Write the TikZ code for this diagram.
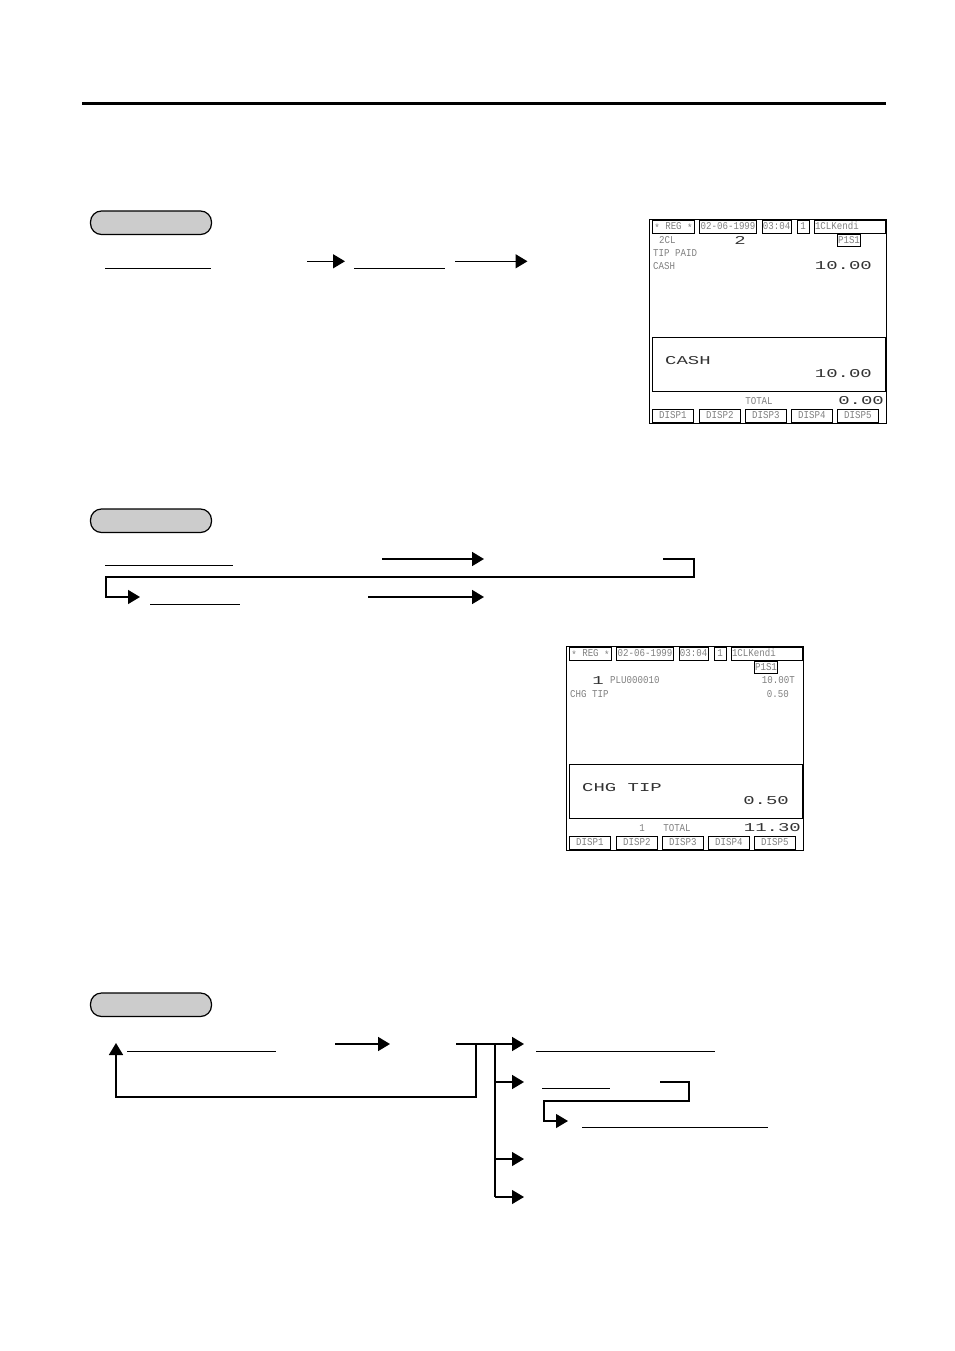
\documentclass[tikz,border=0pt]{standalone}
\usepackage{fontspec}
\newfontfamily\regfont[FakeStretch=0.87]{Liberation Mono}
\newfontfamily\regwide{Liberation Mono}
\usetikzlibrary{arrows.meta}
\definecolor{pillgray}{gray}{0.8}
\definecolor{regtext}{gray}{0.5}

\tikzset{
  pill/.style={draw, line width=1.2pt, fill=pillgray, rounded corners=11pt, inner sep=0pt, outer sep=0pt, anchor=north west, minimum width=121pt, minimum height=23.5pt},
  regbox/.style={draw, line width=0.9pt, inner sep=0pt, outer sep=0pt, anchor=north west, minimum height=13pt, text height=6.5pt, text depth=0pt, text=regtext, font=\regfont\fontsize{10.5}{11}\selectfont},
  regtxt/.style={inner sep=0pt, text=regtext, font=\regfont\fontsize{10.5}{11}\selectfont},
  regbig/.style={inner sep=0pt, yshift=-1pt, text=black!80, font=\regwide\fontsize{12}{12}\selectfont},
  uline/.style={line width=1pt},
  flow/.style={line width=1.2pt, -{Triangle[length=12pt,width=14pt]}},
  flowthick/.style={line width=1.7pt, -{Triangle[length=12pt,width=14pt]}}
}

% wide display digits of the register
\newcommand{\regw}[1]{\scalebox{1.58}[1]{#1}}
% star of the mode box, sits low
\newcommand{\regstar}{\raisebox{-1.6pt}{*}}

% frame of the register screen, #1 = prefix of the names
\newcommand{\regframe}[1]{
  \node[regbox, minimum width=237pt, minimum height=204pt] (#1outer) at (649.5,219) {};
  \node[regbox, minimum width=42pt] (#1mode) at (652.5,220) {\regstar{} REG \regstar};
  \node[regbox, minimum width=57.5pt] (#1date) at (699.3,220) {02-06-1999};
  \node[regbox, minimum width=28.7pt] (#1time) at (762.3,220) {03:04};
  \node[regbox, minimum width=11.7pt] (#1cons) at (797.3,220) {1};
  \node[regbox, minimum width=71pt, text width=69pt, align=left] (#1clerk) at (814,220) {1CLKendi};
  \node[regbox, minimum width=23.4pt, minimum height=12pt] (#1shift) at (837.3,234) {P1S1};
  \node[regbox, minimum width=232.5pt, minimum height=54.4pt] (#1main) at (652.5,337.3) {};
  \foreach \n/\xpos in {1/652.3, 2/699.3, 3/745.3, 4/791.3, 5/837.3}
    \node[regbox, minimum width=41pt, minimum height=12.7pt] (#1disp\n) at (\xpos,409.3) {DISP\n};
}

\begin{document}
\begin{tikzpicture}[x=1pt, y=-1pt]
  \useasboundingbox (0,0) rectangle (954,1351);

  \coordinate (ruleL) at (82,103.5);
  \coordinate (ruleR) at (886,103.5);
  \draw[line width=3pt] (ruleL) -- (ruleR);

  %Pills
  \node[pill] (pillA) at (90.5,211) {};
  \node[pill] (pillB) at (90.5,509) {};
  \node[pill] (pillC) at (90.5,993) {};

  %First flow
  \path
   (105,268.3) coordinate(a1) (211,268.3) coordinate(a2)
   (354,268.3) coordinate(a3) (445,268.3) coordinate(a4)
   (307,261.3) coordinate(a5) (345,261.3) coordinate(a6)
   (455,261.3) coordinate(a7) (527.5,261.3) coordinate(a8);
  \draw[uline] (a1) -- (a2);
  \draw[uline] (a3) -- (a4);
  \draw[flow] (a5) -- (a6);
  \draw[flow] (a7) -- (a8);

  %Second flow
  \path
   (105,565.5) coordinate(b1) (233,565.5) coordinate(b2)
   (150,604) coordinate(b3) (240,604) coordinate(b4)
   (382,559) coordinate(b5) (484,559) coordinate(b6)
   (368,597) coordinate(b7) (484,597) coordinate(b8)
   (663,559) coordinate(b9) (694,559) coordinate(b10)
   (694,577) coordinate(b11) (106,577) coordinate(b12)
   (106,597) coordinate(b13) (140,597) coordinate(b14);
  \draw[uline] (b1) -- (b2);
  \draw[uline] (b3) -- (b4);
  \draw[flowthick] (b5) -- (b6);
  \draw[flowthick] (b7) -- (b8);
  \draw[flow, line width=1.3pt] (b9) -- (b10) -- (b11) -- (b12) -- (b13) -- (b14);

  %Third flow
  \path
   (127,1051) coordinate(c1) (276,1051) coordinate(c2)
   (536,1051) coordinate(c3) (715,1051) coordinate(c4)
   (542,1088) coordinate(c5) (610,1088) coordinate(c6)
   (582,1127) coordinate(c7) (768,1127) coordinate(c8)
   (335,1044) coordinate(c9) (390,1044) coordinate(c10)
   (456,1044) coordinate(c11) (524,1044) coordinate(c12)
   (476,1044) coordinate(c13) (476,1097) coordinate(c14)
   (116,1097) coordinate(c15) (116,1043) coordinate(c16)
   (495,1044) coordinate(c17) (495,1082) coordinate(c18) (524,1082) coordinate(c19)
   (495,1159) coordinate(c20) (524,1159) coordinate(c21)
   (495,1197) coordinate(c22) (524,1197) coordinate(c23)
   (660,1082) coordinate(c24) (689,1082) coordinate(c25)
   (689,1101) coordinate(c26) (544,1101) coordinate(c27)
   (544,1121) coordinate(c28) (568,1121) coordinate(c29);
  \draw[uline] (c1) -- (c2);
  \draw[uline] (c3) -- (c4);
  \draw[uline] (c5) -- (c6);
  \draw[uline] (c7) -- (c8);
  \draw[flowthick] (c9) -- (c10);
  \draw[flowthick] (c11) -- (c12);
  \draw[flowthick] (c13) -- (c14) -- (c15) -- (c16);
  \draw[line width=1.1pt] (c17) -- (c22);
  \draw[flowthick] (c18) -- (c19);
  \draw[flow] (c20) -- (c21);
  \draw[flow] (c22) -- (c23);
  \draw[flow] (c24) -- (c25) -- (c26) -- (c27) -- (c28) -- (c29);

  %Screen after the tip is paid
  \regframe{p}
  \node[regtxt, anchor=west] (pcl) at (659,240) {2CL};
  \node[regbig] (pcount) at (740,239) {\regw{2}};
  \node[regtxt, anchor=west] (ptip) at (653,253) {TIP PAID};
  \node[regtxt, anchor=west] (pcash) at (653,266) {CASH};
  \node[regbig, anchor=east] (pamt) at (872,265) {\regw{10.00}};
  \node[regbig, anchor=west] (pbcash) at (665,360) {\regw{CASH}};
  \node[regbig, anchor=east] (pbamt) at (872,373) {\regw{10.00}};
  \node[regtxt] (ptotal) at (759,401) {TOTAL};
  \node[regbig, anchor=east] (ptamt) at (884,400) {\regw{0.00}};

  %Screen with the charge tip
  \begin{scope}[shift={(-83,427)}]
    \regframe{q}
  \end{scope}
  \node[regbig] (qcount) at (598,680) {\regw{1}};
  \node[regtxt, anchor=west] (qplu) at (610,680) {PLU000010};
  \node[regtxt, anchor=east] (qamt) at (795,680) {10.00T};
  \node[regtxt, anchor=west] (qtip) at (570,694) {CHG TIP};
  \node[regtxt, anchor=east] (qtamt) at (789,694) {0.50};
  \node[regbig, anchor=west] (qbtip) at (582,787) {\regw{CHG TIP}};
  \node[regbig, anchor=east] (qbamt) at (789,800) {\regw{0.50}};
  \node[regtxt] (qone) at (642,828) {1};
  \node[regtxt] (qtotal) at (677,828) {TOTAL};
  \node[regbig, anchor=east] (qsum) at (801,827) {\regw{11.30}};
\end{tikzpicture}
\end{document}
